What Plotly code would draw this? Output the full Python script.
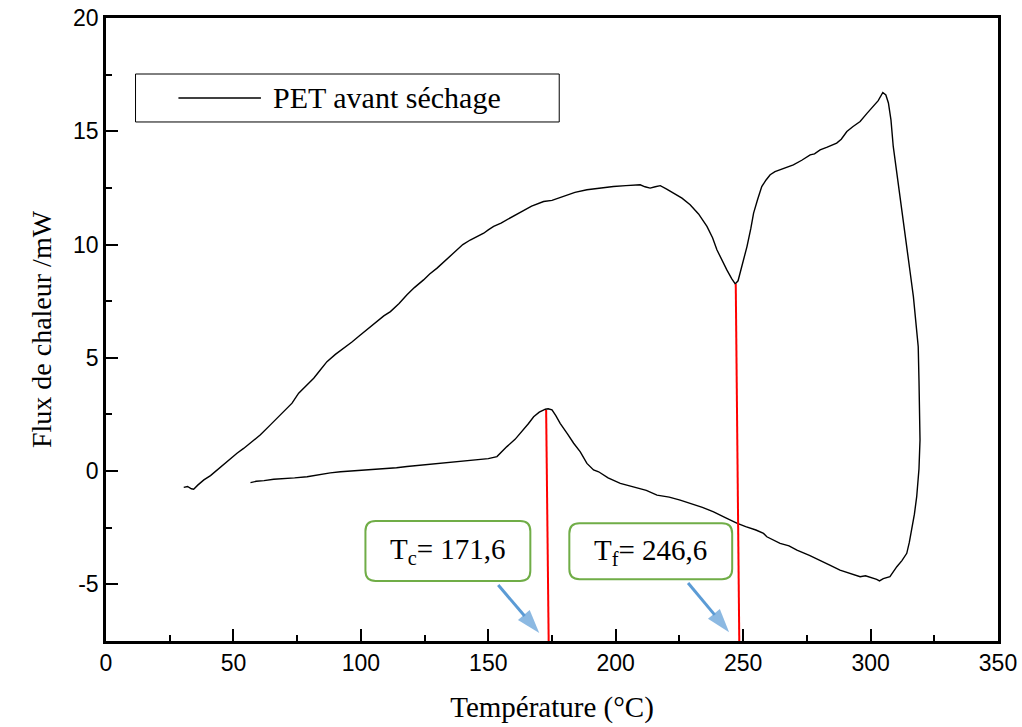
import plotly.graph_objects as go

# DSC loop: heating branch (upper), then cooling branch (lower), single continuous trace
temperature = [
    30.5, 32, 33.5, 34.4, 36, 38.4, 41, 43.6, 47, 51.4, 54, 56.7, 60.6, 64.5, 68, 71.1, 73, 75.6, 78, 81.5,
    84, 86.7, 90, 93.3, 96.5, 99.8, 103, 106.4, 109, 111.6, 115, 118.1, 121, 124.6, 127, 129.9, 134, 137.7,
    140, 142.9, 145.5, 148.2, 150, 152.1, 155, 158, 163.8, 167, 171.7, 175, 179.5, 184, 188.7, 194, 199.1,
    204, 209.6, 211.5, 213.5, 215.5, 217.5, 220, 222.7, 226, 229.2, 232.5, 235.8, 238, 239.7, 241.5, 243.6,
    245.5, 246.9, 248, 248.8, 250, 251.5, 253, 254.1, 255.7, 257.3, 259, 260.6, 262.5, 264.5, 267, 269.7,
    273, 276.3, 278, 280.2, 283, 286.7, 288.5, 290.7, 293, 295.9, 298.5, 301.1, 303, 304.8, 306, 307, 308,
    308.9, 310.3, 311.6, 313, 314.2, 315.5, 316.8, 317.8, 318.7, 319, 319.1, 319.4, 319.0, 318.1, 317.2,
    316.2, 315.2, 314.2, 312.3, 310.3, 309, 307.6, 305, 303.5, 302.4, 300.5, 298, 295.9, 292, 288, 284,
    280.2, 276, 271.1, 268, 264.5, 262, 259.3, 258, 255, 251, 247.5, 243, 238.4, 234, 230, 225.3, 221,
    216.2, 212, 207, 201.8, 197, 193.3, 191.3, 188.7, 186.1, 183.5, 181, 178.2, 176.5, 175, 173.5, 172.4,
    170, 167.8, 165.8, 163.8, 160.5, 157.3, 155, 153.4, 150, 147, 144.2, 140, 135, 131.2, 127, 122, 118.1,
    114, 110, 105, 100, 96, 92, 88, 84, 78.9, 74, 70, 65.8, 62, 59, 56.7,
]
heat_flow = [
    -0.72, -0.68, -0.78, -0.8, -0.62, -0.39, -0.2, 0.05, 0.35, 0.79, 1.0, 1.23, 1.6, 2.04, 2.45, 2.77, 3.0, 3.44, 3.7, 4.1,
    4.45, 4.83, 5.15, 5.42, 5.7, 6.01, 6.3, 6.6, 6.85, 7.04, 7.4, 7.78, 8.1, 8.44, 8.7, 8.96, 9.4, 9.77,
    10.0, 10.2, 10.35, 10.5, 10.65, 10.8, 10.95, 11.15, 11.5, 11.7, 11.9, 11.95, 12.12, 12.3, 12.42, 12.5, 12.56,
    12.6, 12.64, 12.55, 12.49, 12.55, 12.6, 12.45, 12.27, 12.05, 11.76, 11.35, 10.8, 10.3, 9.77, 9.35, 8.88,
    8.5, 8.26, 8.4, 8.74, 9.3, 9.91, 10.7, 11.39, 12.0, 12.56, 12.85, 13.08, 13.22, 13.3, 13.42, 13.52,
    13.72, 13.96, 14.0, 14.18, 14.3, 14.48, 14.65, 14.99, 15.2, 15.43, 15.78, 16.1, 16.35, 16.71, 16.6, 16.25, 15.5,
    14.33, 13.2, 12.12, 11.0, 9.91, 8.8, 7.7, 6.6, 5.49, 4.0, 2.55, 1.37, 0.1, -1.13, -1.9,
    -2.6, -3.15, -3.63, -3.95, -4.22, -4.45, -4.66, -4.75, -4.85, -4.78, -4.7, -4.62, -4.66, -4.5, -4.37, -4.15,
    -3.93, -3.72, -3.49, -3.3, -3.19, -3.05, -2.9, -2.75, -2.6, -2.45, -2.3, -2.05, -1.8, -1.6, -1.45, -1.28, -1.15,
    -1.06, -0.85, -0.7, -0.54, -0.3, -0.03, 0.05, 0.34, 0.85, 1.23, 1.65, 2.11, 2.45, 2.7, 2.75, 2.73,
    2.6, 2.4, 2.1, 1.82, 1.4, 1.08, 0.8, 0.64, 0.55, 0.52, 0.49, 0.44, 0.4, 0.34, 0.32, 0.25, 0.2,
    0.15, 0.12, 0.05, 0.03, 0.0, -0.03, -0.08, -0.15, -0.25, -0.3, -0.32, -0.36, -0.42, -0.45, -0.51,
]

# Marker lines (peak temperature guides)
tc_line_x = [172.7, 173.7]
tc_line_y = [2.7, -7.62]
tf_line_x = [247.1, 248.5]
tf_line_y = [8.26, -7.68]

# Callout arrows (tail -> tip)
tc_arrow_x = [153.9, 170.0]
tc_arrow_y = [-5.03, -7.15]
tf_arrow_x = [228.4, 244.5]
tf_arrow_y = [-4.94, -7.11]

x_ticks = [0, 50, 100, 150, 200, 250, 300, 350]
y_ticks = [-5, 0, 5, 10, 15, 20]
series_name = "PET avant séchage"
tc_label = "T<sub>c</sub>= 171,6"
tf_label = "T<sub>f</sub>= 246,6"

SERIF = "Liberation Serif, Times New Roman, serif"
SANS = "Liberation Sans, Arial, sans-serif"

fig = go.Figure()
fig.add_trace(go.Scatter(x=temperature, y=heat_flow, mode="lines",
                         line=dict(color="black", width=1.4), name=series_name, showlegend=False))
for lx, ly in ((tc_line_x, tc_line_y), (tf_line_x, tf_line_y)):
    fig.add_trace(go.Scatter(x=lx, y=ly, mode="lines", cliponaxis=False,
                             line=dict(color="#FF0000", width=2), showlegend=False))
for axx, axy in ((tc_arrow_x, tc_arrow_y), (tf_arrow_x, tf_arrow_y)):
    fig.add_trace(go.Scatter(x=axx, y=axy, mode="lines+markers", cliponaxis=False,
                             line=dict(color="#5B9BD5", width=3),
                             marker=dict(symbol="arrow", size=[0, 25], angleref="previous",
                                         color="#5B9BD5", line=dict(width=0)),
                             showlegend=False))


def rounded_box(x0, x1, y0, y1, rx=4.0, ry=0.45):
    return (f"M {x0+rx},{y1} L {x1-rx},{y1} Q {x1},{y1} {x1},{y1-ry} "
            f"L {x1},{y0+ry} Q {x1},{y0} {x1-rx},{y0} L {x0+rx},{y0} "
            f"Q {x0},{y0} {x0},{y0+ry} L {x0},{y1-ry} Q {x0},{y1} {x0+rx},{y1} Z")


shapes = [
    dict(type="path", xref="x", yref="y", path=rounded_box(101.8, 166.5, -4.85, -2.2),
         line=dict(color="#70AD47", width=2), fillcolor="white"),
    dict(type="path", xref="x", yref="y", path=rounded_box(181.8, 245.7, -4.77, -2.3),
         line=dict(color="#70AD47", width=2), fillcolor="white"),
    # manual legend box
    dict(type="rect", xref="paper", yref="paper", x0=0.0331, x1=0.5081, y0=0.8331, y1=0.9101,
         line=dict(color="black", width=1), fillcolor="white"),
    dict(type="line", xref="paper", yref="paper", x0=0.0812, x1=0.1737, y0=0.8716, y1=0.8716,
         line=dict(color="black", width=1.3)),
]

annotations = [
    dict(x=134.1, y=-3.52, xref="x", yref="y", text=tc_label, showarrow=False,
         font=dict(family=SERIF, size=29, color="black")),
    dict(x=213.8, y=-3.55, xref="x", yref="y", text=tf_label, showarrow=False,
         font=dict(family=SERIF, size=29, color="black")),
    dict(x=0.1854, y=0.8716, xref="paper", yref="paper", text=series_name, showarrow=False,
         xanchor="left", yanchor="middle", font=dict(family=SERIF, size=30, color="black")),
]

fig.update_layout(
    width=1022, height=727,
    margin=dict(l=106, r=24, t=18, b=86),
    plot_bgcolor="white", paper_bgcolor="white",
    showlegend=False,
    shapes=shapes, annotations=annotations,
    xaxis=dict(range=[0, 350], tickvals=x_ticks, ticktext=[str(v) for v in x_ticks],
               automargin=False,
               ticks="inside", ticklen=12, tickwidth=2, tickcolor="black",
               minor=dict(dtick=25, ticks="inside", ticklen=6, tickwidth=2, tickcolor="black"),
               showline=True, linecolor="black", linewidth=2.5, mirror=True,
               showgrid=False, zeroline=False,
               tickfont=dict(family=SANS, size=23, color="black"),
               title=dict(text="Température (°C)", standoff=22,
                          font=dict(family=SERIF, size=29, color="black"))),
    yaxis=dict(range=[-7.5, 20], tickvals=y_ticks, ticktext=[str(v) for v in y_ticks],
               automargin=False,
               ticks="inside", ticklen=12, tickwidth=2, tickcolor="black",
               minor=dict(tickvals=[-7.5, -2.5, 2.5, 7.5, 12.5, 17.5], ticks="inside",
                          ticklen=6, tickwidth=2, tickcolor="black"),
               showline=True, linecolor="black", linewidth=2.5, mirror=True,
               showgrid=False, zeroline=False,
               tickfont=dict(family=SANS, size=23, color="black"),
               title=dict(text="Flux de chaleur /mW", standoff=14,
                          font=dict(family=SERIF, size=28, color="black"))),
)

fig.write_html("out.html")
